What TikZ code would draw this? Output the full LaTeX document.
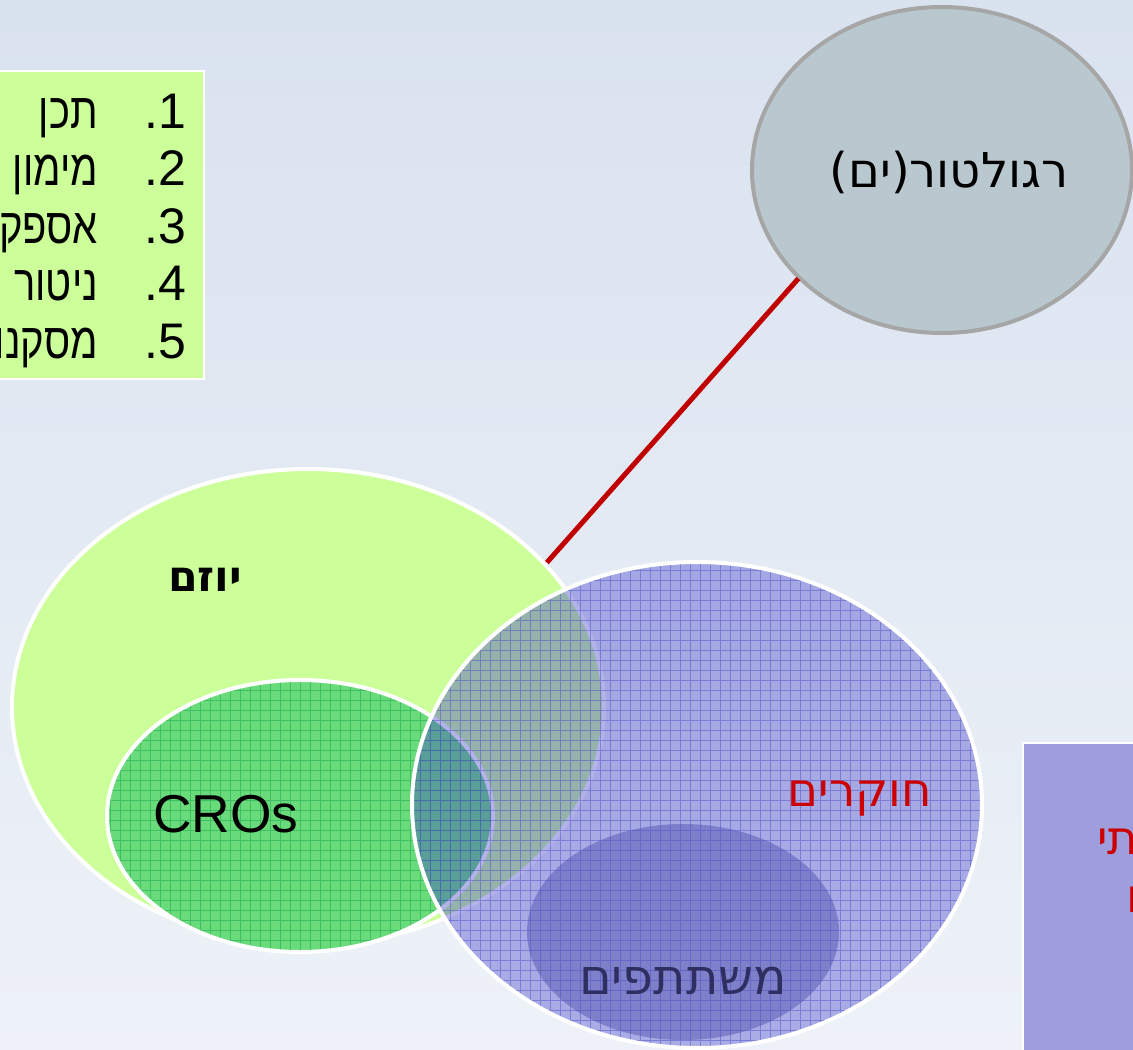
\documentclass[tikz,border=0pt]{standalone}
\usepackage{fontspec}
\setmainfont{Liberation Sans}
\newfontfamily\heb[Script=Hebrew]{Liberation Sans}
\newfontfamily\hebb[Script=Hebrew]{DejaVu Sans}
\TeXXeTstate=1
\usetikzlibrary{shapes.geometric}
\definecolor{bgtop}{HTML}{D9E2EF}
\definecolor{bgbot}{HTML}{EEF2F8}
\definecolor{lgreen}{HTML}{CCFF99}
\definecolor{regfill}{HTML}{B9C7CE}
\definecolor{regborder}{HTML}{A6A6A6}
\definecolor{crogreen}{HTML}{6ADB7B}
\definecolor{crogrid}{HTML}{2CB45A}
\definecolor{blueF}{HTML}{4343CA}
\definecolor{blueG}{HTML}{5050C8}
\definecolor{partF}{HTML}{30309A}
\definecolor{boxblue}{HTML}{9E9EDC}
\definecolor{darkred}{HTML}{C00000}
\definecolor{txtred}{HTML}{CC0000}
\definecolor{navy}{HTML}{2E2E60}
\tikzset{
  shapebox/.style={ellipse, inner sep=0pt, outer sep=0pt},
  whiteline/.style={draw=white, line width=3pt},
  lbl/.style={inner sep=0pt, outer sep=0pt},
  listtxt/.style={lbl, font=\fontsize{37.5}{45}\selectfont},
  linkline/.style={draw=darkred, line width=3.75pt}
}
\begin{document}
\begin{tikzpicture}[x=0.75pt,y=-0.75pt]
\useasboundingbox (0,0) rectangle (1133,1050);
\clip (0,0) rectangle (1133,1050);
\shade[top color=bgtop, bottom color=bgbot] (0,0) rectangle (1133,1050);

% list box
\node[draw=white, line width=1.5pt, fill=lgreen, minimum width=160.5pt, minimum height=231pt, inner sep=0pt, anchor=north east] (listbox) at (205,70) {};
\foreach \i/\w in {1/תכן,2/מימון,3/אספקה,4/ניטור,5/מסקנות}{
  \node[listtxt, anchor=base east] (n\i) at (186,{128+57.5*(\i-1)}) {.\i};
  \node[listtxt, anchor=base east] (w\i) at (98,{128+57.5*(\i-1)}) {\scalebox{0.8}[1]{\heb\beginR \w\endR}};
}

% regulator
\node[shapebox, fill=regfill, draw=regborder, line width=3pt, minimum width=285pt, minimum height=244.5pt] (reg) at (942,170) {};
\node[lbl, font=\hebb\fontsize{36}{42}\selectfont] (regt) at (949,172) {\beginR רגולטור(ים)\endR};

% right box
\node[draw=white, line width=1.5pt, fill=boxblue, minimum width=100pt, minimum height=250pt, inner sep=0pt, anchor=north west] (rbox) at (1022,742) {};
\node[lbl, anchor=west, text=txtred, font=\hebb\fontsize{35}{40}\selectfont] (rt1) at (1097,842) {\beginR תי\endR};
\node[lbl, anchor=west, text=txtred, font=\hebb\fontsize{35}{40}\selectfont] (rt2) at (1126,900) {\beginR ו\endR};

% sponsor ellipse
\node[shapebox, fill=lgreen, draw=white, line width=3pt, minimum width=444pt, minimum height=357pt] (yozem) at (308,707) {};
\node[lbl, font=\hebb\bfseries\fontsize{32}{38}\selectfont] (yozemt) at (205,580) {\beginR יוזם\endR};

% CROs
\node[shapebox, fill=crogreen, minimum width=289.5pt, minimum height=204pt] (cro) at (300,816) {};
\begin{scope}
  \clip (300,816) ellipse [x radius=193, y radius=136];
  \draw[crogrid, draw opacity=0.7, line width=0.45pt, step=7.5pt] (100,670) grid (500,960);
\end{scope}
\draw[whiteline] (300,816) ellipse [x radius=193, y radius=136];
\node[lbl, font=\fontsize{40}{48}\selectfont] (crot) at (226,814) {CROs};

% researchers
\node[shapebox, fill=blueF, fill opacity=0.4, minimum width=427.5pt, minimum height=364.5pt] (res) at (697,805) {};
\node[shapebox, fill=partF, fill opacity=0.35, minimum width=234pt, minimum height=162pt] (part) at (683,932) {};
\begin{scope}
  \clip (697,805) ellipse [x radius=285, y radius=243];
  \draw[blueG, draw opacity=0.5, line width=0.45pt, step=7.5pt] (400,550) grid (1000,1060);
\end{scope}
\draw[whiteline] (697,805) ellipse [x radius=285, y radius=243];
\node[lbl, text=txtred, font=\hebb\fontsize{35}{40}\selectfont] (rest) at (860,799) {\beginR חוקרים\endR};
\node[lbl, text=navy, font=\hebb\fontsize{37}{42}\selectfont] (partt) at (683,981) {\beginR משתתפים\endR};

% link
\draw[linkline, shorten >=2pt, shorten <=1pt] (reg.217) -- (yozem.31);
\end{tikzpicture}
\end{document}
